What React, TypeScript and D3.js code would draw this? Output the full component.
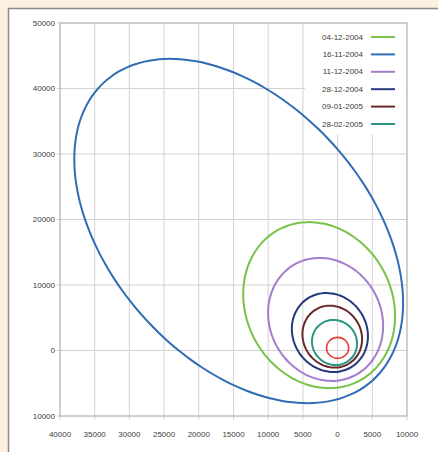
import React from "react";
import * as d3 from "d3";

// orbit dates (legend order) and colours
const orbitDates = ["04-12-2004", "16-11-2004", "11-12-2004", "28-12-2004", "09-01-2005", "28-02-2005"];
const orbitColors = ["#79c24a", "#2f6cb4", "#a47dcc", "#26397c", "#6a2a2a", "#2d9680"];
// orbit shape (km): semi-major axis, centre-to-focus distance, apogee direction (deg)
const semiMajor = [12950, 29900, 9550, 6130, 4790, 3470];
const focalDist = [7420, 23150, 5050, 2960, 2250, 1300];
const apoAngle = [111, 128, 110, 112, 110, 110];

// small red marker near the origin
const markerX = [0];
const markerY = [400];
const markerR = [1600];

const xTicks = [-40000, -35000, -30000, -25000, -20000, -15000, -10000, -5000, 0, 5000, 10000];
const yTicks = [-10000, 0, 10000, 20000, 30000, 40000, 50000];

const W = 438;
const H = 452;
const margin = { left: 60, right: 31, top: 23, bottom: 36 };

const fontFamily = "'Liberation Sans', Arial, sans-serif";
const textColor = "#3c3c3c";

const App = () => {
  const x = d3.scaleLinear().domain([-40000, 10000]).range([margin.left, W - margin.right]);
  const y = d3.scaleLinear().domain([-10000, 50000]).range([H - margin.bottom, margin.top]);

  const line = d3
    .line<[number, number]>()
    .x(d => x(d[0]))
    .y(d => y(d[1]))
    .curve(d3.curveCardinalClosed);

  const angles = d3.range(0, 360, 4).map(a => (a * Math.PI) / 180);

  const orbitPath = (i: number) => {
    const a = semiMajor[i];
    const c = focalDist[i];
    const b = Math.sqrt(a * a - c * c);
    const phi = (apoAngle[i] * Math.PI) / 180;
    const cx = c * Math.cos(phi);
    const cy = c * Math.sin(phi);
    const pts: [number, number][] = angles.map(t => [
      cx + a * Math.cos(t) * Math.cos(phi) - b * Math.sin(t) * Math.sin(phi),
      cy + a * Math.cos(t) * Math.sin(phi) + b * Math.sin(t) * Math.cos(phi),
    ]);
    return line(pts) || "";
  };

  const x0 = x.range()[0];
  const x1 = x.range()[1];
  const y0 = y.range()[1];
  const y1 = y.range()[0];

  // legend, no border, white box hiding the grid
  const legX = 363;
  const legTop = 37;
  const legStep = 17.4;

  return (
    <svg width={W} height={H} style={{ position: "absolute", left: 0, top: 0 }}>
      <rect x={0} y={0} width={W} height={H} fill="#fdf0e0" />
      <rect x={8.5} y={8.5} width={W} height={H} fill="#ffffff" stroke="#8a8a8a" strokeWidth={1.5} />

      {/* grid */}
      {xTicks.map(t => (
        <line key={"gx" + t} x1={x(t)} x2={x(t)} y1={y0} y2={y1 + 4} stroke="#d2d2d2" strokeWidth={1} />
      ))}
      {yTicks.map(t => (
        <line key={"gy" + t} x1={x0 - 3} x2={x1} y1={y(t)} y2={y(t)} stroke="#d2d2d2" strokeWidth={1} />
      ))}
      <rect x={x0} y={y0} width={x1 - x0} height={y1 - y0} fill="none" stroke="#b4b4b4" strokeWidth={1} />

      {/* legend background */}
      <rect x={305} y={y0 + 1} width={x1 - 306} height={110} fill="#ffffff" />

      {/* tick labels */}
      {yTicks.map(t => (
        <text
          key={"ty" + t}
          x={x0 - 5}
          y={y(t)}
          dy="0.33em"
          textAnchor="end"
          fontSize={8}
          fontFamily={fontFamily}
          fill={textColor}
        >
          {Math.abs(t)}
        </text>
      ))}
      {xTicks.map(t => (
        <text
          key={"tx" + t}
          x={x(t)}
          y={y1 + 18}
          dy="0.33em"
          textAnchor="middle"
          fontSize={8}
          fontFamily={fontFamily}
          fill={textColor}
        >
          {Math.abs(t)}
        </text>
      ))}

      {/* orbits */}
      {orbitDates.map((d, i) => (
        <path key={d} d={orbitPath(i)} fill="none" stroke={orbitColors[i]} strokeWidth={2} />
      ))}
      {markerX.map((mx, i) => (
        <ellipse
          key={"m" + i}
          cx={x(mx)}
          cy={y(markerY[i])}
          rx={x(mx + markerR[i]) - x(mx)}
          ry={y(markerY[i]) - y(markerY[i] + markerR[i])}
          fill="none"
          stroke="#e2463a"
          strokeWidth={1.6}
        />
      ))}

      {/* legend */}
      {orbitDates.map((d, i) => (
        <g key={"l" + d}>
          <text
            x={legX}
            y={legTop + i * legStep}
            dy="0.33em"
            textAnchor="end"
            fontSize={8}
            fontFamily={fontFamily}
            fill={textColor}
          >
            {d}
          </text>
          <line
            x1={legX + 8}
            x2={legX + 32}
            y1={legTop + i * legStep}
            y2={legTop + i * legStep}
            stroke={orbitColors[i]}
            strokeWidth={2}
          />
        </g>
      ))}
    </svg>
  );
};

export default App;
